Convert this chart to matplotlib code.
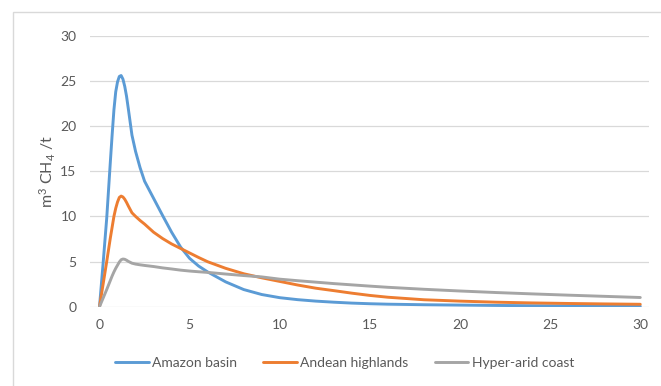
import matplotlib
matplotlib.use("Agg")
import matplotlib.pyplot as plt
from matplotlib.patches import Rectangle

plt.rcParams['font.family'] = ['Lato', 'DejaVu Sans']
plt.rcParams['mathtext.fontset'] = 'custom'
plt.rcParams['mathtext.rm'] = 'Lato'
plt.rcParams['mathtext.it'] = 'Lato:italic'

# years since deposition
years = [0, 0.2, 0.4, 0.6, 0.7, 0.8, 0.9, 1.0, 1.1, 1.2, 1.3, 1.4, 1.5, 1.6, 1.8, 2.0, 2.25, 2.5,
         3, 3.5, 4, 4.5, 5, 5.5, 6, 7, 8, 9, 10, 11, 12, 13, 14, 15, 16, 18, 20, 22, 24, 26, 28, 30]

amazon = [0, 4.8, 9.8, 16.0, 19.0, 21.8, 23.8, 24.9, 25.5, 25.6, 25.2, 24.4, 23.3, 21.9, 19.0, 17.2, 15.4, 13.9,
          12.0, 10.1, 8.25, 6.6, 5.35, 4.5, 3.85, 2.75, 1.9, 1.35, 1.0, 0.78, 0.62, 0.5, 0.4, 0.33, 0.28,
          0.22, 0.18, 0.14, 0.11, 0.09, 0.07, 0.05]

andean = [0, 2.5, 5.0, 7.6, 8.8, 10.0, 10.9, 11.6, 12.1, 12.25, 12.15, 11.9, 11.55, 11.15, 10.4, 10.0, 9.55, 9.15,
          8.25, 7.55, 6.95, 6.45, 5.95, 5.45, 4.98, 4.25, 3.65, 3.2, 2.8, 2.4, 2.05, 1.78, 1.5, 1.25, 1.05,
          0.77, 0.62, 0.5, 0.42, 0.36, 0.31, 0.27]

coast = [0, 0.95, 1.9, 2.9, 3.4, 3.85, 4.25, 4.6, 4.95, 5.2, 5.28, 5.25, 5.15, 5.02, 4.82, 4.72, 4.64, 4.57,
         4.45, 4.3, 4.18, 4.05, 3.95, 3.87, 3.8, 3.62, 3.45, 3.3, 3.05, 2.88, 2.72, 2.56, 2.42, 2.28, 2.15,
         1.93, 1.74, 1.57, 1.42, 1.28, 1.15, 1.02]

series = [("Amazon basin", amazon, "#5B9BD5"),
          ("Andean highlands", andean, "#ED7D31"),
          ("Hyper-arid coast", coast, "#A5A5A5")]

fig = plt.figure(figsize=(6.61, 3.86), dpi=100)
fig.patches.append(Rectangle((12.5 / 661, -0.1), 1.2, 1.1 - 12.5 / 386, transform=fig.transFigure,
                             fill=False, edgecolor="#D9D9D9", linewidth=1.0))

ax = fig.add_axes([0.1369, 0.2054, 0.8454, 0.7019])
for name, vals, col in series:
    ax.plot(years, vals, color=col, linewidth=2.1, label=name,
            solid_joinstyle='round', solid_capstyle='round')

ax.set_xlim(-0.5, 30.5)
ax.set_ylim(0, 30)
ax.set_xticks([0, 5, 10, 15, 20, 25, 30])
ax.set_yticks([0, 5, 10, 15, 20, 25, 30])
ax.grid(axis='y', color="#D9D9D9", linewidth=0.9)
ax.set_axisbelow(True)
for s in ax.spines.values():
    s.set_visible(False)
ax.tick_params(length=0, labelsize=10, labelcolor="#595959")
ax.tick_params(axis='y', pad=10)
ax.tick_params(axis='x', pad=9)

ax.set_ylabel(r"m$^3$ CH$_4$ /t", fontsize=11.5, color="#595959", labelpad=2)

fig.legend(loc='center', bbox_to_anchor=(0.5215, 0.0604), ncol=3, frameon=False,
           fontsize=10, handlelength=2.4, handletextpad=0.25, columnspacing=1.9,
           labelcolor="#595959")

fig.savefig("out.png", dpi=100)
